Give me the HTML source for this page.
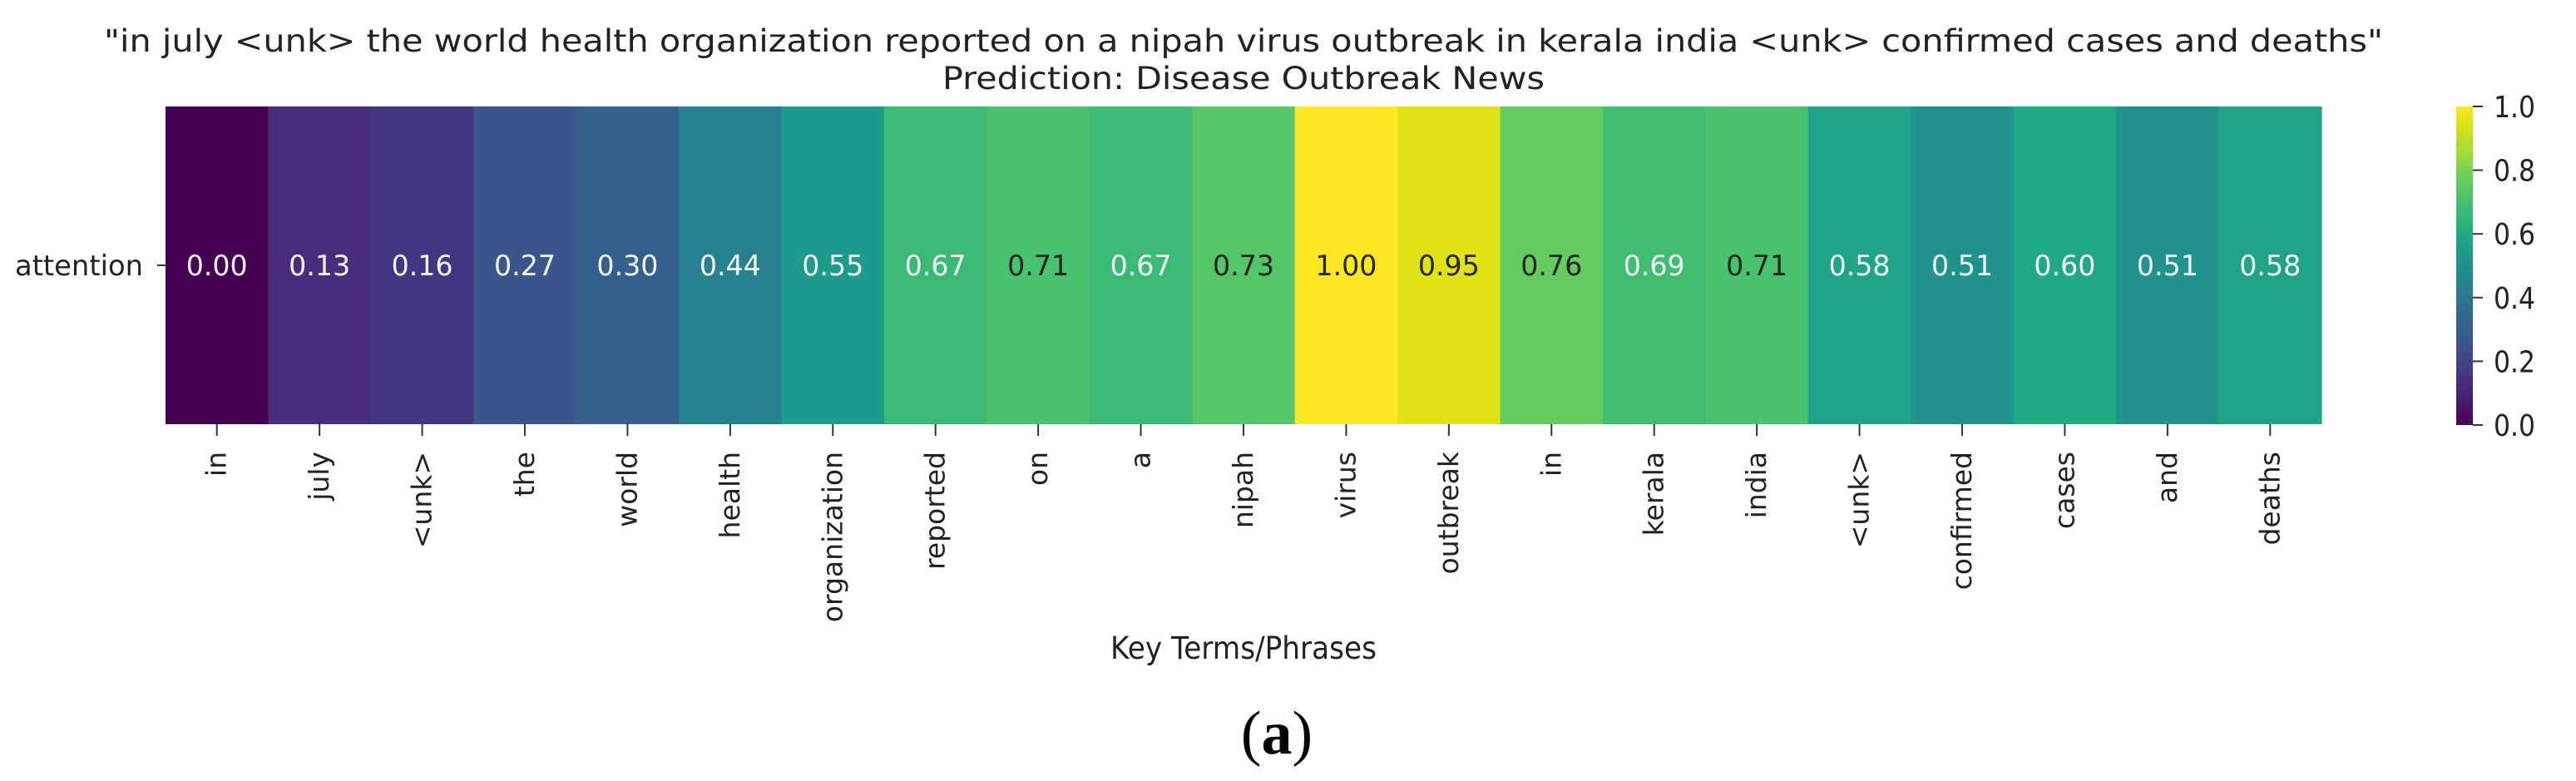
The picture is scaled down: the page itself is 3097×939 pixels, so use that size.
<!DOCTYPE html>
<html><head><meta charset="utf-8"><style>
html,body{margin:0;padding:0;background:#fff;}
svg{display:block;font-family:"DejaVu Sans","Liberation Sans",sans-serif;}
</style></head><body>
<svg id="chart" width="3097" height="939" viewBox="0 0 3097 939" xmlns="http://www.w3.org/2000/svg">
<text x="1495" y="62" font-size="37" text-anchor="middle" fill="#222" textLength="2740" lengthAdjust="spacingAndGlyphs">"in july &lt;unk&gt; the world health organization reported on a nipah virus outbreak in kerala india &lt;unk&gt; confirmed cases and deaths"</text>
<text x="1495" y="107" font-size="37" text-anchor="middle" fill="#222" textLength="724" lengthAdjust="spacingAndGlyphs">Prediction: Disease Outbreak News</text>
<g id="cells"></g>
<g id="xticks"></g>
<line x1="189" y1="319" x2="199" y2="319" stroke="#333" stroke-width="2"/>
<text x="172" y="331" font-size="34" text-anchor="end" fill="#222" textLength="154" lengthAdjust="spacingAndGlyphs">attention</text>
<text x="1495" y="792" font-size="37" text-anchor="middle" fill="#222" textLength="320" lengthAdjust="spacingAndGlyphs">Key Terms/Phrases</text>
<text x="1535" y="906" font-size="74" text-anchor="middle" fill="#000" font-family="Liberation Serif, serif">(<tspan font-weight="bold">a</tspan>)</text>
<defs><linearGradient id="vir" x1="0" y1="1" x2="0" y2="0"></linearGradient></defs>
<rect x="2953" y="128" width="20" height="383" fill="url(#vir)"/>
<g id="cticks"></g>
</svg>
<script>
const categories = ["in","july","<unk>","the","world","health","organization","reported","on","a","nipah","virus","outbreak","in","kerala","india","<unk>","confirmed","cases","and","deaths"];
const values = [0.00,0.13,0.16,0.27,0.30,0.44,0.55,0.67,0.71,0.67,0.73,1.00,0.95,0.76,0.69,0.71,0.58,0.51,0.60,0.51,0.58];
const colorbarTicks = [0.0,0.2,0.4,0.6,0.8,1.0];
const viridis = ["#440154","#471365","#482475","#46337f","#414487","#3b528b","#355f8d","#30698e","#2a788e","#25848e","#21918c","#1e9b8a","#22a884","#35b779","#44bf70","#5ec962","#7ad151","#9fda3a","#bddf26","#dfe318","#fde725"];
const NS="http://www.w3.org/2000/svg";
const L=199,R=2791,T=128,B=510;
const cw=(R-L)/categories.length;
function xPos(i){return L+i*cw;}
function cbY(v){return 511-v*(511-128);}
function hex(h){return [1,3,5].map(k=>parseInt(h.substr(k,2),16));}
function cmap(v){v=Math.max(0,Math.min(1,v));const p=v*(viridis.length-1);const i=Math.min(Math.floor(p),viridis.length-2);const f=p-i;const a=hex(viridis[i]),b=hex(viridis[i+1]);return "rgb("+a.map((c,k)=>Math.round(c+(b[k]-c)*f)).join(",")+")";}
function mk(tag,attrs,parent){const e=document.createElementNS(NS,tag);for(const k in attrs)e.setAttribute(k,attrs[k]);parent.appendChild(e);return e;}
const cells=document.getElementById('cells'),xt=document.getElementById('xticks');
values.forEach((v,i)=>{
  const r=mk('rect',{x:xPos(i),y:T,width:cw+0.6,height:B-T,fill:cmap(v)},cells);
  
  
  const t=mk('text',{x:xPos(i)+cw/2,y:331,'font-size':34,'text-anchor':'middle',fill:v>=0.70?'#262626':'#f2f2f2',textLength:74,lengthAdjust:'spacingAndGlyphs'},cells);
  t.textContent=v.toFixed(2);
  
  
  const cx=xPos(i)+cw/2;
  const tk=mk('line',{x1:cx,y1:B,x2:cx,y2:B+14,stroke:'#333','stroke-width':2},xt);
  
  
  const lb=mk('text',{transform:'translate('+(cx+11)+',543) rotate(-90)','font-size':33,'text-anchor':'end',fill:'#222'},xt);
  lb.textContent=categories[i];
  
  
});
const g=document.getElementById('vir');
viridis.forEach((c,i)=>{mk('stop',{offset:(i/(viridis.length-1)),'stop-color':c},g);});
const ct=document.getElementById('cticks');
colorbarTicks.forEach(v=>{
  const y=cbY(v);
  const l=mk('line',{x1:2973,y1:y,x2:2985,y2:y,stroke:'#333','stroke-width':2},ct);
  
  
  const t=mk('text',{x:2998,y:y+13,'font-size':36,fill:'#222',textLength:50,lengthAdjust:'spacingAndGlyphs'},ct);
  t.textContent=v.toFixed(1);
  
  
});
</script>
</body></html>
